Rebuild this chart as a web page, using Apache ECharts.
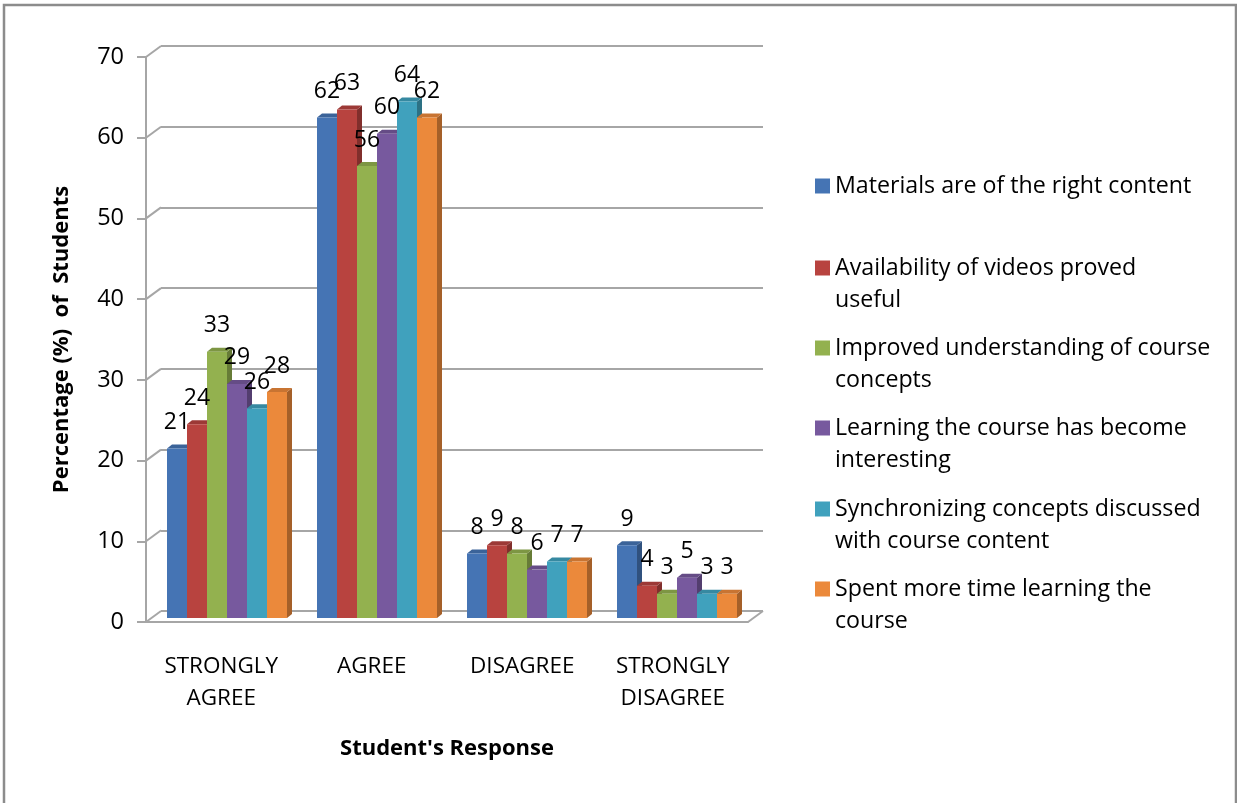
<!DOCTYPE html>
<html><head><meta charset="utf-8">
<script src="https://cdn.jsdelivr.net/npm/echarts@6/dist/echarts.min.js"></script>
<style>html,body{margin:0;padding:0;background:#fff}#c{width:1237px;height:803px}</style>
</head><body><div id="c"></div>
<script>
// ---- data ----
const categories = ['STRONGLY\nAGREE', 'AGREE', 'DISAGREE', 'STRONGLY\nDISAGREE'];
const seriesNames = [
  'Materials are of the right content',
  'Availability of videos proved useful',
  'Improved understanding of course concepts',
  'Learning the course has become interesting',
  'Synchronizing concepts discussed with course content',
  'Spent more time learning the course'
];
const legendLabels = [
  'Materials are of the right content',
  'Availability of videos proved\nuseful',
  'Improved understanding of course\nconcepts',
  'Learning the course has become\ninteresting',
  'Synchronizing concepts discussed\nwith course content',
  'Spent more time learning the\ncourse'
];
const materials     = [21, 62, 8, 9];
const videos        = [24, 63, 9, 4];
const understanding = [33, 56, 8, 3];
const interesting   = [29, 60, 6, 5];
const synchronizing = [26, 64, 7, 3];
const moreTime      = [28, 62, 7, 3];
const yTicks = [0, 10, 20, 30, 40, 50, 60, 70];
const yTitle = 'Percentage (%)  of  Students';
const xTitle = "Student's Response";

// ---- style ----
const allValues = [materials, videos, understanding, interesting, synchronizing, moreTime];
const colors = ['#4574B4', '#B8433F', '#93B14F', '#77599E', '#40A1BD', '#EB893B'];
const FONT = '"Open Sans", "Noto Sans", sans-serif';
const GRID_COLOR = '#A6A6A6';
const DX = 15, DY = -11; // wall depth
const BDX = 5, BDY = -4; // bar depth

function shade(hex, f) {
  const n = parseInt(hex.slice(1), 16);
  const r = Math.round(((n >> 16) & 255) * f), g = Math.round(((n >> 8) & 255) * f), b = Math.round((n & 255) * f);
  return 'rgb(' + r + ',' + g + ',' + b + ')';
}

function makeRender(s) {
  return function (params, api) {
    const ci = api.value(0), v = api.value(1);
    const top = api.coord([ci, v]);
    const base = api.coord([ci, 0]);
    const catW = api.size([1, 0])[0];
    const bw = catW * 0.8 / 6;
    const x0 = top[0] - catW * 0.4 + s * bw;
    const x1 = x0 + bw;
    const yT = top[1], yB = base[1];
    return {
      type: 'group',
      children: [
        { type: 'polygon', shape: { points: [[x1, yB], [x1 + BDX, yB + BDY], [x1 + BDX, yT + BDY], [x1, yT]] }, style: { fill: shade(colors[s], 0.7) } },
        { type: 'polygon', shape: { points: [[x0, yT], [x0 + BDX, yT + BDY], [x1 + BDX, yT + BDY], [x1, yT]] }, style: { fill: shade(colors[s], 0.85) } },
        { type: 'rect', shape: { x: x0, y: yT, width: bw, height: yB - yT }, style: { fill: colors[s] } },
        { type: 'text', z2: 50, style: { text: String(v), x: (x0 + x1) / 2, y: yT - 26, align: 'center', verticalAlign: 'middle', font: '23px ' + FONT, fill: '#000' } }
      ]
    };
  };
}

const chart = echarts.init(document.getElementById('c'), null, { renderer: 'canvas' });

const legendCenters = [186, 268, 348, 428, 509, 589];
const LH = 32;
const legends = seriesNames.map((name, i) => {
  const two = legendLabels[i].indexOf('\n') >= 0;
  return {
    orient: 'vertical', left: 815, top: legendCenters[i] - (two ? 1.5 * LH : 0.5 * LH),
    padding: 0, itemWidth: 15, itemHeight: 15, icon: 'rect',
    selectedMode: false,
    data: [name],
    formatter: () => (two ? '\n' : '') + legendLabels[i],
    textStyle: { fontFamily: FONT, fontSize: 23.2, color: '#000', lineHeight: LH }
  };
});

const option = {
  backgroundColor: '#fff',
  animation: false,
  legend: legends,
  graphic: [
    { type: 'rect', shape: { x: 4, y: 5, width: 1232, height: 810 }, style: { fill: 'none', stroke: '#8C8C8C', lineWidth: 2.5 }, silent: true }
  ],
  grid: [
    { left: 146, top: 57, width: 602, height: 565 },          // front
    { left: 146 + DX, top: 57 + DY, width: 602, height: 565 }, // back wall
    { left: 152, top: 53, width: 600, height: 565 }           // bars
  ],
  xAxis: [
    {
      gridIndex: 0, type: 'category', data: categories,
      axisLine: { show: true, lineStyle: { color: GRID_COLOR, width: 2 } },
      axisTick: { show: false },
      axisLabel: { fontFamily: FONT, fontSize: 22.5, color: '#000', lineHeight: 32, margin: 29 },
      name: xTitle, nameLocation: 'middle', nameGap: 116,
      nameTextStyle: { fontFamily: FONT, fontSize: 22, fontWeight: 'bold', color: '#000' }
    },
    { gridIndex: 1, type: 'category', data: categories, show: false },
    { gridIndex: 2, type: 'category', data: categories, show: false }
  ],
  yAxis: [
    {
      gridIndex: 0, type: 'value', min: 0, max: 70, interval: 10,
      axisLine: { show: true, lineStyle: { color: GRID_COLOR, width: 2 } },
      axisTick: { show: true, length: 9, lineStyle: { color: GRID_COLOR, width: 2 } },
      splitLine: { show: false },
      axisLabel: { fontFamily: FONT, fontSize: 23.5, color: '#000', margin: 22 },
      name: yTitle, nameLocation: 'middle', nameGap: 73, nameRotate: 90,
      nameTextStyle: { fontFamily: FONT, fontSize: 22, fontWeight: 'bold', color: '#000' }
    },
    {
      gridIndex: 1, type: 'value', min: 0, max: 70, interval: 10,
      axisLine: { show: false }, axisTick: { show: false }, axisLabel: { show: false },
      splitLine: { show: true, lineStyle: { color: GRID_COLOR, width: 2 } }
    },
    { gridIndex: 2, type: 'value', min: 0, max: 70, interval: 10, show: false, splitLine: { show: false } }
  ],
  series: [
    {
      type: 'custom', name: 'connectors', xAxisIndex: 0, yAxisIndex: 0, silent: true, z: 1,
      data: yTicks.map(v => [0, v]),
      renderItem: function (params, api) {
        const y = api.coord([0, api.value(1)])[1];
        const cs = params.coordSys;
        const ls = { stroke: GRID_COLOR, lineWidth: 2 };
        const ch = [{ type: 'line', shape: { x1: cs.x, y1: y, x2: cs.x + DX, y2: y + DY }, style: ls }];
        if (api.value(1) === 0) {
          ch.push({ type: 'line', shape: { x1: cs.x + cs.width, y1: y, x2: cs.x + cs.width + DX, y2: y + DY }, style: ls });
        }
        return { type: 'group', children: ch };
      }
    }
  ].concat(allValues.map((vals, s) => ({
    type: 'custom', name: seriesNames[s], xAxisIndex: 2, yAxisIndex: 2, z: 3,
    itemStyle: { color: colors[s] },
    data: vals.map((v, i) => [i, v]),
    renderItem: makeRender(s)
  })))
};
chart.setOption(option);
</script>
</body></html>
